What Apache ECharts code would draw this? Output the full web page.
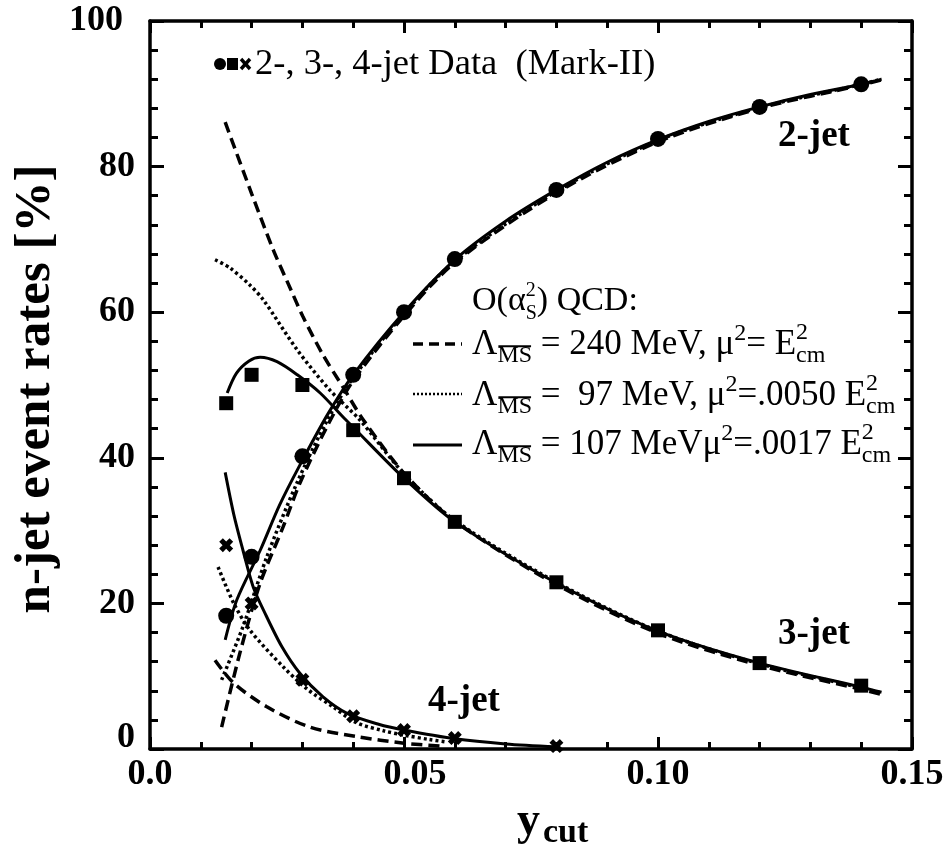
<!DOCTYPE html>
<html><head><meta charset="utf-8">
<script src="https://cdn.jsdelivr.net/npm/echarts@6/dist/echarts.min.js"></script>
<style>html,body{margin:0;padding:0;background:#fff}#c{width:949px;height:860px}</style>
</head><body><div id="c"></div>
<script>
const FONT = '"Liberation Serif", "Times New Roman", serif';

// tick labels
const xTickLabels = ['0.0', '0.05', '0.10', '0.15'];
const yTickLabels = ['0', '20', '40', '60', '80', '100'];

// Mark-II data
const dataX = [0.015, 0.02, 0.03, 0.04, 0.05, 0.06, 0.08, 0.10, 0.12, 0.14];
const jet2Data = [18.3, 26.4, 40.2, 51.4, 60.0, 67.3, 76.8, 83.8, 88.2, 91.3];
const jet3Data = [47.5, 51.4, 50.0, 43.8, 37.2, 31.2, 22.9, 16.3, 11.8, 8.7];
const jet4X = [0.015, 0.02, 0.03, 0.04, 0.05, 0.06, 0.08];
const jet4Data = [28.0, 20.0, 9.5, 4.5, 2.6, 1.5, 0.4];

// QCD curves: solid (107 MeV)
const solid2X = [0.0148, 0.0171, 0.0217, 0.0255, 0.0295, 0.035, 0.04, 0.05, 0.06, 0.07, 0.08, 0.09, 0.10, 0.11, 0.12, 0.13, 0.14, 0.144];
const solid2Y = [15.0, 20.5, 27.3, 33.5, 39.0, 46.0, 51.4, 60.0, 67.2, 72.5, 76.8, 80.6, 83.7, 86.2, 88.2, 89.9, 91.3, 92.0];
const solid3X = [0.0152, 0.017, 0.0195, 0.0217, 0.025, 0.029, 0.0335, 0.038, 0.04, 0.05, 0.06, 0.08, 0.10, 0.12, 0.14, 0.144];
const solid3Y = [48.9, 51.6, 53.3, 53.8, 53.2, 51.4, 48.9, 45.6, 44.2, 37.2, 31.2, 22.8, 16.2, 11.8, 8.5, 7.8];
const solid4X = [0.0148, 0.0165, 0.0183, 0.0203, 0.0226, 0.026, 0.0295, 0.034, 0.0388, 0.045, 0.05, 0.06, 0.07, 0.08];
const solid4Y = [38.0, 32.2, 27.3, 22.3, 18.7, 14.0, 10.4, 7.2, 4.9, 3.4, 2.6, 1.4, 0.7, 0.3];

// dotted (97 MeV)
const dotted2X = [0.0141, 0.0183, 0.023, 0.0289, 0.035, 0.04, 0.05, 0.06, 0.08, 0.10, 0.12, 0.14, 0.144];
const dotted2Y = [9.5, 16.8, 26.4, 36.5, 45.3, 51.0, 59.8, 67.0, 76.6, 83.6, 88.1, 91.3, 92.0];
const dotted3X = [0.0128, 0.0157, 0.0197, 0.0223, 0.029, 0.0354, 0.0413, 0.05, 0.06, 0.08, 0.10, 0.12, 0.14, 0.144];
const dotted3Y = [67.2, 66.1, 63.7, 61.7, 54.8, 49.3, 45.2, 37.8, 31.4, 22.9, 16.2, 11.7, 8.4, 7.7];
const dotted4X = [0.0134, 0.0165, 0.0197, 0.0262, 0.031, 0.036, 0.0407, 0.046, 0.05, 0.055, 0.058];
const dotted4Y = [25.0, 20.0, 16.3, 11.3, 8.2, 5.8, 3.6, 2.5, 1.9, 1.3, 1.0];

// dashed (240 MeV)
const dashed2X = [0.0141, 0.0177, 0.0217, 0.0262, 0.0295, 0.035, 0.04, 0.05, 0.06, 0.08, 0.10, 0.12, 0.14, 0.144];
const dashed2Y = [3.0, 13.2, 22.8, 30.5, 36.5, 44.5, 50.6, 59.5, 66.8, 76.4, 83.4, 88.0, 91.2, 91.9];
const dashed3X = [0.0148, 0.02, 0.0243, 0.0276, 0.0301, 0.034, 0.038, 0.042, 0.05, 0.06, 0.08, 0.10, 0.12, 0.14, 0.144];
const dashed3Y = [86.1, 76.3, 68.5, 63.3, 59.4, 54.2, 49.7, 45.2, 37.9, 31.3, 22.6, 15.9, 11.5, 8.2, 7.5];
const dashed4X = [0.0128, 0.0164, 0.023, 0.0315, 0.0407, 0.05, 0.057];
const dashed4Y = [12.2, 9.1, 5.8, 3.0, 1.7, 0.8, 0.4];

const chart = echarts.init(document.getElementById('c'), null, {renderer: 'canvas'});

const pair = (xs, ys) => xs.map((x, i) => [x, ys[i]]);
const styles = {
  solid: {width: 3, type: 'solid'},
  dotted: {width: 3.5, type: [3, 3]},
  dashed: {width: 3.5, type: [11, 6]}
};
const lineSeries = (xs, ys, kind) => ({
  type: 'line', data: pair(xs, ys), smooth: 0.3,
  symbol: 'none', showSymbol: false, silent: true,
  lineStyle: Object.assign({color: '#000', cap: 'butt', opacity: 1}, styles[kind]), z: 2
});
const crossPath = 'path://M0,2.6 L2.6,0 L5,2.4 L7.4,0 L10,2.6 L7.6,5 L10,7.4 L7.4,10 L5,7.6 L2.6,10 L0,7.4 L2.4,5 Z';

// text layout helper
const mctx = document.createElement('canvas').getContext('2d');
function measure(t, size, weight) {
  mctx.font = (weight || 'normal') + ' ' + size + 'px ' + FONT;
  return mctx.measureText(t).width;
}
function txt(x, y, t, size, weight, extra) {
  return Object.assign({type: 'text', x: x, y: y, silent: true, z: 100,
    style: {text: t, fill: '#000', font: (weight || 'normal') + ' ' + size + 'px ' + FONT,
      textAlign: 'left', textVerticalAlign: 'middle'}}, extra || {});
}
function row(x, baseline, segs) {
  const els = [];
  for (const s of segs) {
    if (s.stack) {
      const w = Math.max(measure(s.stack[0], s.s), measure(s.stack[1], s.s));
      els.push(txt(x, baseline - 15 - 0.33 * s.s, s.stack[0], s.s));
      els.push(txt(x, baseline + 8 - 0.33 * s.s, s.stack[1], s.s));
      x += w;
    } else {
      const dy = s.dy || 0;
      const w = measure(s.t, s.s, s.w);
      els.push(txt(x, baseline + dy - 0.33 * s.s, s.t, s.s, s.w));
      if (s.ol) {
        const oy = baseline + dy - 0.74 * s.s;
        els.push({type: 'line', silent: true, z: 100, shape: {x1: x + 1, y1: oy, x2: x + w - 1, y2: oy}, style: {stroke: '#000', lineWidth: 1.8}});
      }
      x += w;
    }
  }
  return els;
}

const F = 35, S = 24;
const graphics = [].concat(
  // Mark-II legend
  [{type: 'circle', silent: true, shape: {cx: 220, cy: 64, r: 6}, style: {fill: '#000'}},
   {type: 'rect', silent: true, shape: {x: 227, y: 58, width: 11, height: 12}, style: {fill: '#000'}},
   {type: 'line', silent: true, shape: {x1: 241, y1: 59, x2: 250, y2: 69}, style: {stroke: '#000', lineWidth: 3.4}},
   {type: 'line', silent: true, shape: {x1: 250, y1: 59, x2: 241, y2: 69}, style: {stroke: '#000', lineWidth: 3.4}},
   txt(255, 64, '2-, 3-, 4-jet Data  (Mark-II)', 36.5)],
  // QCD legend
  row(472, 312, [{t: 'O(\u03b1', s: 34}, {stack: ['2', 'S'], s: 20}, {t: ') QCD:', s: 34}]),
  row(472, 356, [{t: '\u039b', s: F}, {t: 'MS', s: S, dy: 8, ol: true}, {t: ' = 240 MeV, \u03bc', s: F}, {t: '2', s: S, dy: -14}, {t: '= E', s: F}, {stack: ['2', 'cm'], s: S}]),
  row(472, 407, [{t: '\u039b', s: F}, {t: 'MS', s: S, dy: 8, ol: true}, {t: ' =  97 MeV, \u03bc', s: F}, {t: '2', s: S, dy: -14}, {t: '=.0050 E', s: F}, {stack: ['2', 'cm'], s: S}]),
  row(472, 456, [{t: '\u039b', s: F}, {t: 'MS', s: S, dy: 8, ol: true}, {t: ' = 107 MeV\u03bc', s: F}, {t: '2', s: S, dy: -14}, {t: '=.0017 E', s: F}, {stack: ['2', 'cm'], s: S}]),
  [{type: 'line', silent: true, shape: {x1: 413, y1: 344, x2: 462, y2: 344}, style: {stroke: '#000', lineWidth: 3.5, lineDash: [10, 6]}},
   {type: 'line', silent: true, shape: {x1: 413, y1: 394, x2: 462, y2: 394}, style: {stroke: '#000', lineWidth: 2.5, lineDash: [2, 2]}},
   {type: 'line', silent: true, shape: {x1: 413, y1: 445, x2: 462, y2: 445}, style: {stroke: '#000', lineWidth: 3}}],
  // curve labels
  [txt(778, 136, '2-jet', 37, 'bold'), txt(778, 634, '3-jet', 37, 'bold'), txt(428, 701, '4-jet', 37, 'bold')],
  // axis titles
  [txt(36, 389, 'n-jet event rates [%]', 50, 'bold', {rotation: Math.PI / 2, style: {text: 'n-jet event rates [%]', fill: '#000', font: 'bold 51px ' + FONT, textAlign: 'center', textVerticalAlign: 'middle'}}),
   txt(517, 822, 'y', 46, 'bold'), txt(543, 833, 'cut', 34, 'bold')]
);

const axisLineStyle = {color: '#000', width: 3.5};
const tickStyle = {color: '#000', width: 3};
const xBase = {
  type: 'value', min: 0, max: 0.15, interval: 0.05,
  axisLine: {show: true, onZero: false, lineStyle: axisLineStyle},
  axisTick: {show: true, inside: true, length: 12, lineStyle: tickStyle},
  minorTick: {show: true, splitNumber: 5, length: 7, lineStyle: tickStyle},
  splitLine: {show: false}, minorSplitLine: {show: false}
};
const yBase = {
  type: 'value', min: 0, max: 100, interval: 20,
  axisLine: {show: true, onZero: false, lineStyle: axisLineStyle},
  axisTick: {show: true, inside: true, length: 14, lineStyle: tickStyle},
  minorTick: {show: true, splitNumber: 5, length: 8, lineStyle: tickStyle},
  splitLine: {show: false}, minorSplitLine: {show: false}
};
const lblFont = {fontFamily: FONT, fontWeight: 'bold', fontSize: 36, color: '#000'};

const option = {
  backgroundColor: '#fff',
  animation: false,
  grid: {left: 150, right: 37, top: 21, bottom: 111, containLabel: false},
  xAxis: [
    Object.assign({}, xBase, {position: 'bottom',
      axisLabel: Object.assign({margin: 8, formatter: (v) => {
        const i = Math.round(v / 0.05);
        return i === 1 ? '{f|' + xTickLabels[i] + '}' : xTickLabels[i];
      }, rich: {f: Object.assign({padding: [0, 0, 0, 22]}, lblFont)}}, lblFont)}),
    Object.assign({}, xBase, {position: 'top', axisLabel: {show: false}})
  ],
  yAxis: [
    Object.assign({}, yBase, {position: 'left',
      axisLabel: Object.assign({margin: 15, formatter: (v) => {
        const i = Math.round(v / 20);
        if (i === 5) return '{h|' + yTickLabels[i] + '}';
        if (i === 0) return '{z|' + yTickLabels[i] + '}';
        return yTickLabels[i];
      }, rich: {h: Object.assign({padding: [0, 12, 0, 0]}, lblFont), z: Object.assign({padding: [0, 0, 22, 0]}, lblFont)}}, lblFont)}),
    Object.assign({}, yBase, {position: 'right', axisLabel: {show: false}})
  ],
  series: [
    lineSeries(dashed2X, dashed2Y, 'dashed'),
    lineSeries(dashed3X, dashed3Y, 'dashed'),
    lineSeries(dashed4X, dashed4Y, 'dashed'),
    lineSeries(dotted2X, dotted2Y, 'dotted'),
    lineSeries(dotted3X, dotted3Y, 'dotted'),
    lineSeries(dotted4X, dotted4Y, 'dotted'),
    lineSeries(solid2X, solid2Y, 'solid'),
    lineSeries(solid3X, solid3Y, 'solid'),
    lineSeries(solid4X, solid4Y, 'solid'),
    {type: 'scatter', data: pair(dataX, jet2Data), symbol: 'circle', symbolSize: 16, itemStyle: {color: '#000', opacity: 1}, z: 5, silent: true},
    {type: 'scatter', data: pair(dataX, jet3Data), symbol: 'rect', symbolSize: 14, itemStyle: {color: '#000', opacity: 1}, z: 5, silent: true},
    {type: 'scatter', data: pair(jet4X, jet4Data), symbol: crossPath, symbolSize: 14, itemStyle: {color: '#000', opacity: 1}, z: 5, silent: true}
  ],
  graphic: graphics
};
chart.setOption(option);
</script></body></html>
